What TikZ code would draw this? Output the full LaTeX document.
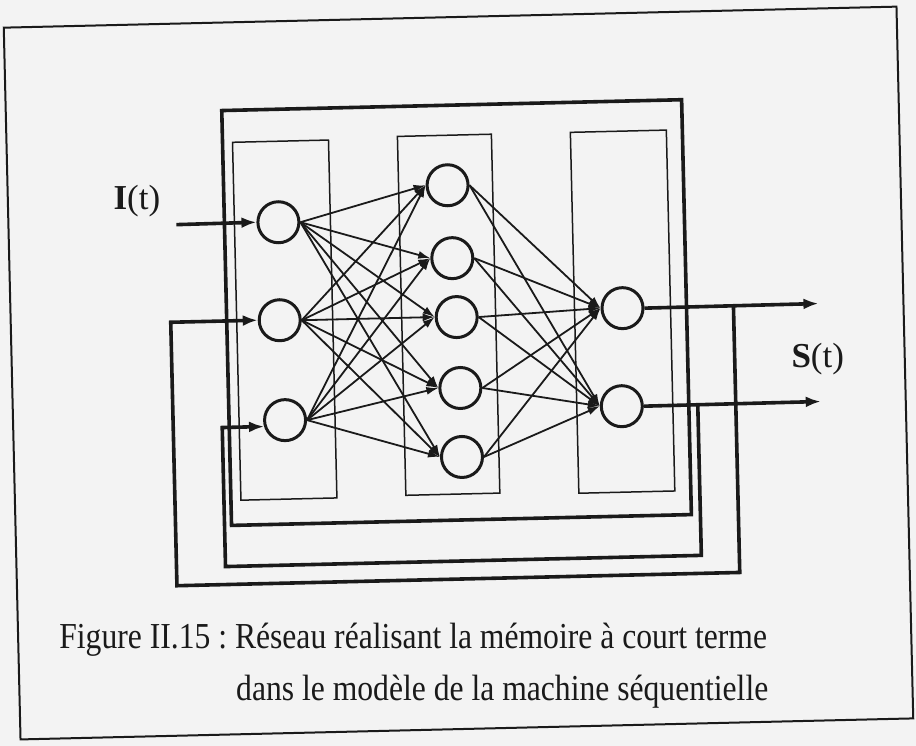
\documentclass[tikz,border=0pt]{standalone}
\usepackage{fontspec}
\usepackage{graphicx}
\setmainfont{Liberation Serif}
\usetikzlibrary{arrows.meta}
\definecolor{ink}{HTML}{1A1A1A}
\definecolor{paper}{HTML}{F3F3F3}
\newcommand\tallText[1]{\scalebox{1.02}[1.18]{#1}}

\begin{document}
\frenchspacing
\begin{tikzpicture}[x=1pt,y=-1pt,
	every node/.style={font=\fontsize{31}{37}\selectfont,text=ink},
	neuron/.style={draw=ink,circle,line width=3pt,minimum size=41pt,inner sep=0pt},
	layerbox/.style={draw=ink,line width=1.5pt},
	link/.style={draw=ink,line width=1.8pt,-{Latex[length=12pt,width=8pt]}},
	loopline/.style={draw=ink,line width=3.6pt},
	bigarrow/.style={loopline,-{Latex[length=15pt,width=11pt]}},
	signal/.style={font=\fontsize{35}{40}\selectfont}]
	\useasboundingbox[fill=paper] (0,0) rectangle (916,746);
	\begin{scope}[rotate around={1.35:(460,373)}]
		\draw[ink,line width=2pt] (12,17) rectangle (905,729);
		% three layers
		\draw[layerbox] (238,137) rectangle (334,495);
		\draw[layerbox] (403,135) rectangle (497,494);
		\draw[layerbox] (576,135) rectangle (672,496);
		\draw[loopline] (228,105) rectangle (688,520);
		\node[neuron] (i1) at (282,218) {};
		\node[neuron] (i2) at (281,316) {};
		\node[neuron] (i3) at (284,416) {};
		\node[neuron] (h1) at (452,185) {};
		\node[neuron] (h2) at (455,258) {};
		\node[neuron] (h3) at (458,317) {};
		\node[neuron] (h4) at (460,388) {};
		\node[neuron] (h5) at (460,457) {};
		\node[neuron] (o1) at (624,312) {};
		\node[neuron] (o2) at (621,410) {};
		\foreach \a in {i1,i2,i3}
			\foreach \b in {h1,h2,h3,h4,h5}
				\draw[link] (\a.east) -- (\b.west);
		\foreach \a in {h1,h2,h3,h4,h5}
			\foreach \b in {o1,o2}
				\draw[link] (\a.east) -- (\b.west);
		% input and outputs
		\node[signal] (inlabel) at (141,194) {\textbf{I}(t)};
		\coordinate (src) at (180,218);
		\draw[bigarrow] (src) -- (i1.west);
		\coordinate (s1) at (820,312);
		\coordinate (s2) at (820,410);
		\draw[bigarrow] (o1.east) -- (s1);
		\draw[bigarrow] (o2.east) -- (s2);
		\node[signal] (outlabel) at (818,368) {\textbf{S}(t)};
		% feedback loops
		\coordinate (t1) at (735,312);
		\coordinate (t2) at (697,410);
		\draw[bigarrow] (t1) -- (735,579) -- (172,579) |- (i2.west);
		\draw[bigarrow] (t2) -- (697,561) -- (221,561) |- (i3.197);
		\node[anchor=base east] (cap1) at (764,656) {\tallText{Figure II.15 : Réseau réalisant la mémoire à court terme}};
		\node[anchor=base east] (cap2) at (764,708) {\tallText{dans le modèle de la machine séquentielle}};
	\end{scope}
\end{tikzpicture}
\end{document}
